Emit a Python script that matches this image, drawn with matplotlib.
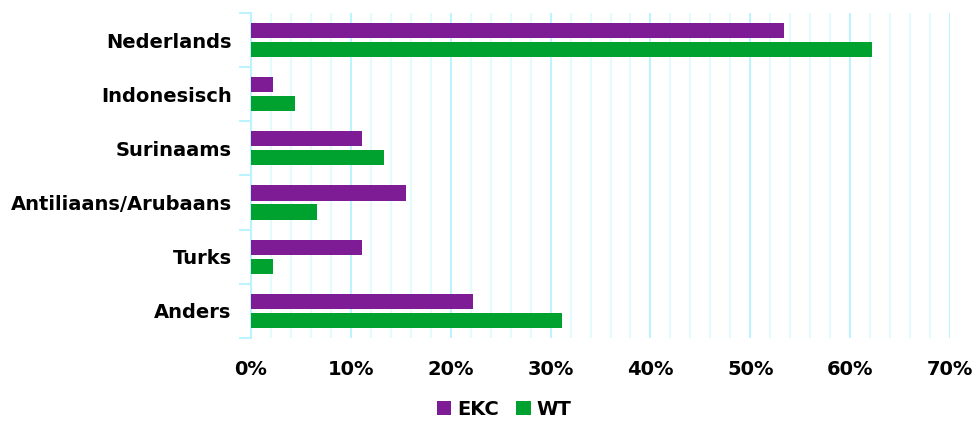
import matplotlib.pyplot as plt
import numpy as np
from matplotlib.ticker import MultipleLocator, PercentFormatter

# Share per origin group (%), top to bottom
categories = ["Nederlands", "Indonesisch", "Surinaams", "Antiliaans/Arubaans", "Turks", "Anders"]
ekc = [53.4, 2.2, 11.1, 15.5, 11.1, 22.2]
wt = [62.2, 4.4, 13.3, 6.6, 2.2, 31.1]

purple = "#7E1C96"
green = "#00A22F"
cyan = "#BDF3FF"

fig = plt.figure(figsize=(9.79, 4.26), dpi=100)
ax = fig.add_axes([0.2564, 0.2066, 0.714, 0.763])

y = np.arange(len(categories))[::-1].astype(float)
h = 0.28
ax.barh(y + 0.175, ekc, height=h, color=purple, label="EKC", zorder=3)
ax.barh(y - 0.175, wt, height=h, color=green, label="WT", zorder=3)

ax.set_xlim(0, 70)
ax.set_ylim(-0.5, len(categories) - 0.5)

# light vertical grid: every 2% plus slightly stronger every 10%
ax.xaxis.set_major_locator(MultipleLocator(10))
ax.xaxis.set_minor_locator(MultipleLocator(2))
ax.xaxis.set_major_formatter(PercentFormatter(decimals=0))
ax.grid(axis="x", which="minor", color="#E3FBFF", lw=1.5, zorder=0)
ax.grid(axis="x", which="major", color=cyan, lw=1.5, zorder=0)
ax.tick_params(axis="x", which="both", length=0, pad=16)

# category labels between boundary ticks
ax.set_yticks(y)
ax.set_yticklabels(categories)
ax.set_yticks(np.arange(len(categories) + 1) - 0.5, minor=True)
ax.tick_params(axis="y", which="major", length=0, pad=14)
ax.tick_params(axis="y", which="minor", length=9, width=1.5, color=cyan)

for lab in ax.get_xticklabels() + ax.get_yticklabels():
    lab.set_fontweight("bold")
    lab.set_fontsize(14)

for s in ["top", "right", "bottom"]:
    ax.spines[s].set_visible(False)
ax.spines["left"].set_color(cyan)
ax.spines["left"].set_linewidth(1.5)

fig.legend(loc="lower center", bbox_to_anchor=(0.515, -0.025), ncol=2, frameon=False,
           handlelength=0.75, handleheight=0.75, handletextpad=0.3, columnspacing=0.9,
           prop={"weight": "bold", "size": 14})

fig.savefig("out.png", dpi=100)
